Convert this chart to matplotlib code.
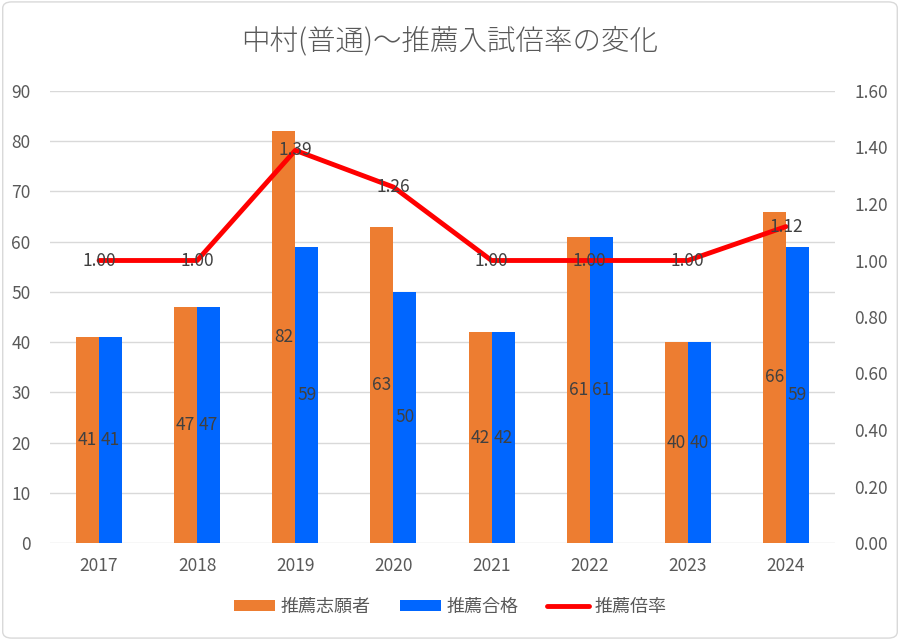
import numpy as np
import matplotlib.pyplot as plt
from matplotlib.patches import FancyBboxPatch

plt.rcParams['font.family'] = ['Noto Sans CJK JP', 'DejaVu Sans']

years = ['2017', '2018', '2019', '2020', '2021', '2022', '2023', '2024']
applicants = [41, 47, 82, 63, 42, 61, 40, 66]
passed = [41, 47, 59, 50, 42, 61, 40, 59]
ratio = [1.00, 1.00, 1.39, 1.26, 1.00, 1.00, 1.00, 1.12]

orange = '#ED7D31'
blue = '#0066FF'
red = '#FF0000'
txt = '#595959'

fig = plt.figure(figsize=(9, 6.4), dpi=100)
fig.patches.append(FancyBboxPatch((0.003, 0.003), 0.994, 0.994, boxstyle='round,pad=0,rounding_size=0.01',
                                  transform=fig.transFigure, fill=False, edgecolor='#D9D9D9', linewidth=1))
ax = fig.add_axes([50/900, 97/640, 785/900, 452/640])
ax2 = ax.twinx()

x = np.arange(len(years))
w = 0.235
b1 = ax.bar(x - w/2, applicants, w, color=orange, label='推薦志願者', zorder=2)
b2 = ax.bar(x + w/2, passed, w, color=blue, label='推薦合格', zorder=2)
for bars in (b1, b2):
    for r in bars:
        ax.text(r.get_x() + r.get_width()/2, r.get_height()/2, str(int(r.get_height())),
                ha='center', va='center', fontsize=12.5, color='#404040', zorder=3)

ax.set_ylim(0, 90)
ax.set_yticks(range(0, 91, 10))
ax.set_xlim(-0.5, len(years) - 0.5)
ax.set_xticks(x)
ax.set_xticklabels(years)
ax.grid(axis='y', color='#D9D9D9', linewidth=1, zorder=0)
ax.set_axisbelow(True)

ln, = ax2.plot(x, ratio, color=red, linewidth=3.5, label='推薦倍率', zorder=4, solid_capstyle='round')
for xi, v in zip(x, ratio):
    ax2.text(xi, v, f'{v:.2f}', ha='center', va='center', fontsize=12.5, color='#404040', zorder=5)
ax2.set_ylim(0, 1.6)
ax2.set_yticks(np.arange(0, 1.61, 0.2))
ax2.set_yticklabels([f'{v:.2f}' for v in np.arange(0, 1.61, 0.2)])

for a in (ax, ax2):
    for s in a.spines.values():
        s.set_visible(False)
    a.tick_params(length=0, labelsize=12.5, labelcolor=txt)
ax.tick_params(axis='y', pad=14)
ax.tick_params(axis='x', pad=10)
ax2.tick_params(axis='y', pad=14)

ax2.set_zorder(ax.get_zorder() + 1)
ax2.patch.set_visible(False)

fig.text(0.5, 0.935, '中村(普通)～推薦入試倍率の変化', ha='center', va='center', fontsize=20.5,
         color=txt, fontweight='light')
fig.legend(handles=[b1, b2, ln], loc='center', bbox_to_anchor=(0.5, 0.052), ncol=3, frameon=False,
           fontsize=13, labelcolor=txt, handlelength=2.3, handleheight=0.6, columnspacing=1.6, handletextpad=0.3)

fig.savefig('out.png', dpi=100)
